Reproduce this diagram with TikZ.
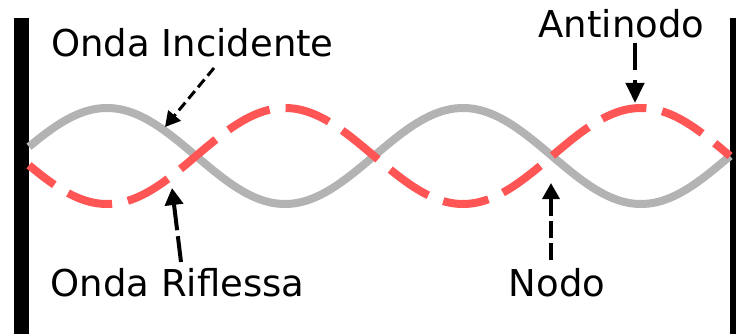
\documentclass[tikz,border=0pt]{standalone}
\usepackage{fontspec}
\setmainfont{DejaVu Sans}
\usetikzlibrary{arrows.meta}
\definecolor{wavegrey}{HTML}{B3B3B3}
\definecolor{wavered}{HTML}{FF5555}
\tikzset{
  lbl/.style={anchor=base, inner sep=0pt, font=\fontsize{37}{40}\selectfont},
  wall/.style={fill=black},
  incwave/.style={draw=wavegrey, line width=8pt},
  refwave/.style={draw=wavered, line width=8pt, dash pattern=on 46pt off 16pt, dash phase=14pt},
  ptr/.style={draw=black}
}
\begin{document}
\begin{tikzpicture}[x=1pt,y=-1pt]
\useasboundingbox (0,0) rectangle (736,334);
% walls
\fill[wall] (14,18) rectangle (29,334);
\fill[wall] (730,18) rectangle (736,334);
% waves
\draw[incwave] plot[domain=29:730, samples=300, smooth] (\x, {156-48*sin(1.011236*(\x-18))});
\draw[refwave] plot[domain=29:730, samples=300, smooth] (\x, {156+48*sin(1.011236*(\x-18))});
% labels
\node[lbl] (inc) at (192.5,57) {Onda Incidente};
\node[lbl] (rif) at (177.5,296) {Onda Riflessa};
\node[lbl] (anti) at (621.5,38) {Antinodo};
\node[lbl] (nodo) at (557,296) {Nodo};
% arrow end points
\coordinate (incT) at (214,68);
\coordinate (incH) at (165,127);
\coordinate (rifT) at (181,262);
\coordinate (rifH) at (172,188);
\coordinate (antiT) at (635,43);
\coordinate (antiH) at (635,103);
\coordinate (nodoT) at (551,260);
\coordinate (nodoH) at (551,183);
% arrows
\draw[ptr, line width=3pt, dash pattern=on 10pt off 5pt, -{Triangle[length=15pt,width=16pt]}] (incT) -- (incH);
\draw[ptr, line width=4pt, dash pattern=on 26pt off 6pt, -{Triangle[length=17pt,width=18pt]}] (rifT) -- (rifH);
\draw[ptr, line width=4.2pt, dash pattern=on 27pt off 10pt, -{Triangle[length=20pt,width=18pt]}] (antiT) -- (antiH);
\draw[ptr, line width=3.5pt, dash pattern=on 17pt off 5pt, -{Triangle[length=16pt,width=17pt]}] (nodoT) -- (nodoH);
\end{tikzpicture}
\end{document}
